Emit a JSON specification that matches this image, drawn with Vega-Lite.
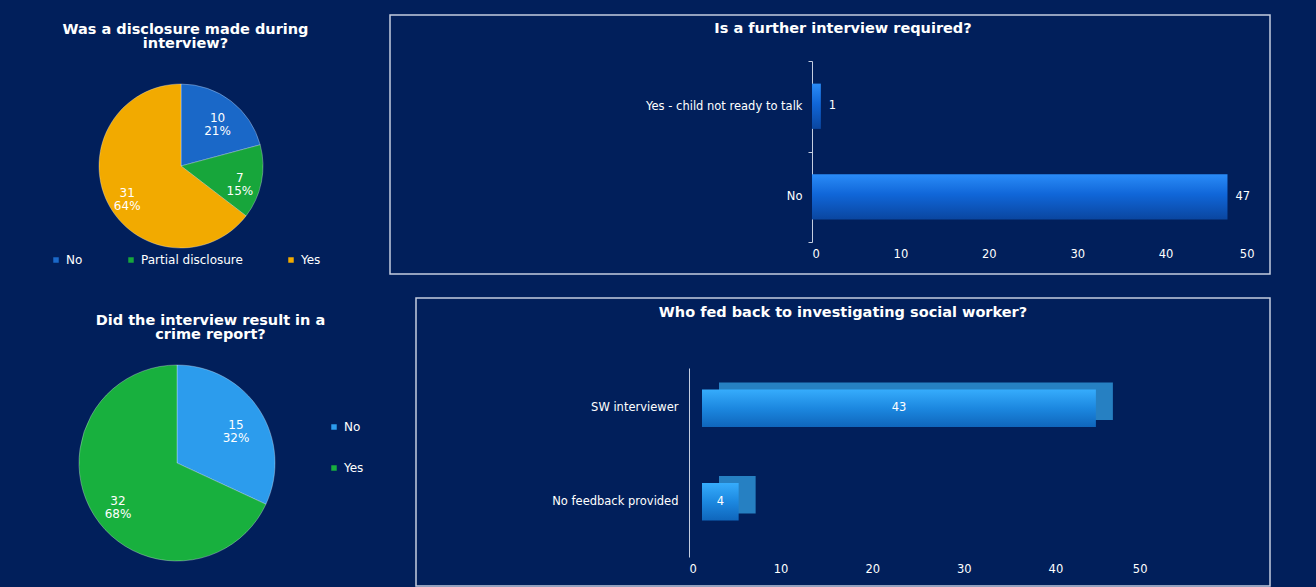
{
  "$schema": "https://vega.github.io/schema/vega-lite/v6.json",
  "background": "#011f5b",
  "padding": {"left": 50, "top": 8, "right": 48, "bottom": 1},
  "spacing": 25,
  "resolve": {"scale": {"color": "independent", "x": "independent", "y": "independent", "theta": "independent"}},
  "hconcat": [
    {
      "spacing": 46,
      "resolve": {"scale": {"color": "independent", "x": "independent", "y": "independent", "theta": "independent"}},
      "vconcat": [
        {
          "spacing": 0,
          "resolve": {"scale": {"color": "independent", "theta": "independent"}},
          "vconcat": [
            {"width": 10, "height": 6, "data": {"values": []}, "mark": "rect", "encoding": {}, "view": {"stroke": null}},
            {
              "width": 248,
              "height": 190,
              "view": {"stroke": null},
              "title": {"text": ["Was a disclosure made during", "interview?"], "frame": "bounds", "offset": 20, "lineHeight": 14},
              "data": {"values": [
                {"answer": "No", "count": 10, "label": "10\n21%"},
                {"answer": "Partial disclosure", "count": 7, "label": "7\n15%"},
                {"answer": "Yes", "count": 31, "label": "31\n64%"}
              ]},
              "encoding": {
                "theta": {"field": "count", "type": "quantitative", "stack": true},
                "order": {"field": "answer", "type": "nominal", "sort": "ascending"}
              },
              "layer": [
                {
                  "mark": {"type": "arc", "outerRadius": 82, "stroke": "#ffffff", "strokeOpacity": 0.3, "strokeWidth": 1},
                  "encoding": {
                    "color": {"field": "answer", "type": "nominal",
                      "scale": {"domain": ["No", "Partial disclosure", "Yes"], "range": ["#1a68c8", "#17a63b", "#f2aa00"]},
                      "legend": {"orient": "none", "direction": "horizontal", "legendX": -7, "legendY": 183, "columnPadding": 42, "padding": 0, "title": null}}
                  }
                },
                {
                  "mark": {"type": "text", "radius": 60, "fontSize": 12, "lineBreak": "\n", "lineHeight": 13, "color": "white"},
                  "encoding": {"text": {"field": "label"}}
                }
              ]
            }
          ]
        },
        {
          "width": 240,
          "height": 200,
          "view": {"stroke": null},
          "title": {"text": ["Did the interview result in a", "crime report?"], "frame": "bounds", "offset": 21, "lineHeight": 14},
          "data": {"values": [
            {"answer": "No", "count": 15, "label": "15\n32%"},
            {"answer": "Yes", "count": 32, "label": "32\n68%"}
          ]},
          "encoding": {
            "theta": {"field": "count", "type": "quantitative", "stack": true},
            "order": {"field": "answer", "type": "nominal", "sort": "ascending"}
          },
          "layer": [
            {
              "mark": {"type": "arc", "outerRadius": 98, "stroke": "#ffffff", "strokeOpacity": 0.3, "strokeWidth": 1},
              "encoding": {
                "color": {"field": "answer", "type": "nominal",
                  "scale": {"domain": ["No", "Yes"], "range": ["#2c9ced", "#18b03e"]},
                  "legend": {"orient": "none", "direction": "vertical", "legendX": 271, "legendY": 58, "rowPadding": 29, "padding": 0, "title": null}}
              }
            },
            {
              "mark": {"type": "text", "radius": 70, "fontSize": 12, "lineBreak": "\n", "lineHeight": 13, "color": "white"},
              "encoding": {"text": {"field": "label"}}
            }
          ]
        }
      ]
    },
    {
      "spacing": 22,
      "resolve": {"scale": {"x": "independent", "y": "independent"}},
      "vconcat": [
        {
          "width": 880,
          "height": 259,
          "view": {"stroke": "#c4cde0", "strokeWidth": 1.5},
          "title": {"text": "Is a further interview required?", "frame": "group", "offset": -27, "dx": 13},
          "data": {"values": [
            {"answer": "Yes - child not ready to talk", "count": 1},
            {"answer": "No", "count": 47}
          ]},
          "encoding": {
            "y": {"field": "answer", "type": "nominal", "sort": null,
              "scale": {"range": [46, 227], "paddingInner": 0, "paddingOuter": 0},
              "axis": {"offset": -422, "title": null, "tickBand": "extent", "ticks": true, "tickSize": 4, "labelPadding": 6}},
            "x": {"field": "count", "type": "quantitative",
              "scale": {"domain": [0, 50], "range": [422, 864], "nice": false},
              "axis": {"offset": -32, "values": [0, 10, 20, 30, 40, 50], "domain": false, "ticks": false, "labelPadding": 6, "title": null}}
          },
          "layer": [
            {"mark": {"type": "bar", "height": {"band": 0.5}, "color": {"gradient": "linear", "x1": 0, "y1": 0, "x2": 0, "y2": 1,
              "stops": [{"offset": 0, "color": "#2a8cf8"}, {"offset": 0.45, "color": "#1066d8"}, {"offset": 1, "color": "#0a46a0"}]}}},
            {"mark": {"type": "text", "align": "left", "dx": 8, "fontSize": 11.5, "color": "white"},
              "encoding": {"text": {"field": "count", "type": "quantitative"}}}
          ]
        },
        {
          "spacing": 0,
          "hconcat": [
            {"width": 25, "height": 1, "data": {"values": []}, "mark": "rect", "encoding": {}, "view": {"stroke": null}},
            {
              "width": 854,
              "height": 288,
              "view": {"stroke": "#c4cde0", "strokeWidth": 1.5},
              "title": {"text": "Who fed back to investigating social worker?", "frame": "group", "offset": -22},
              "data": {"values": [
                {"source": "SW interviewer", "count": 43},
                {"source": "No feedback provided", "count": 4}
              ]},
              "encoding": {
                "y": {"field": "source", "type": "nominal", "sort": null,
                  "scale": {"range": [70, 259], "paddingInner": 0.6, "paddingOuter": 0.31, "align": 0.37},
                  "axis": {"offset": -273, "title": null, "ticks": false, "labelPadding": 11}}
              },
              "resolve": {"scale": {"x": "independent"}},
              "layer": [
                {
                  "encoding": {
                    "x": {"field": "count", "type": "quantitative",
                      "scale": {"domain": [0, 50], "range": [273, 731], "nice": false},
                      "axis": {"offset": -29, "values": [0, 10, 20, 30, 40, 50], "domain": false, "ticks": false, "labelPadding": 6, "title": null}}
                  },
                  "layer": [
                    {"mark": {"type": "bar", "color": "#2680c2", "xOffset": 30, "x2Offset": 30, "yOffset": -7}},
                    {"mark": {"type": "bar", "xOffset": 13, "x2Offset": 13, "color": {"gradient": "linear", "x1": 0, "y1": 0, "x2": 0, "y2": 1,
                      "stops": [{"offset": 0, "color": "#36acfc"}, {"offset": 0.5, "color": "#1c88e0"}, {"offset": 1, "color": "#0f66bc"}]}}}
                  ]
                },
                {
                  "mark": {"type": "text", "dx": 13, "fontSize": 11.5, "color": "white"},
                  "encoding": {
                    "x": {"field": "count", "type": "quantitative",
                      "scale": {"domain": [0, 100], "range": [273, 731], "nice": false}, "axis": null},
                    "text": {"field": "count", "type": "quantitative"}
                  }
                }
              ]
            }
          ]
        }
      ]
    }
  ],
  "config": {
    "font": "DejaVu Sans",
    "axis": {"labelColor": "#ffffff", "labelFont": "DejaVu Sans", "labelFontSize": 11.5, "grid": false, "domainColor": "#c4cde0", "tickColor": "#c4cde0"},
    "legend": {"labelColor": "#ffffff", "labelFont": "DejaVu Sans", "labelFontSize": 12, "symbolType": "square", "symbolSize": 30, "symbolStrokeWidth": 0, "labelOffset": 4},
    "title": {"color": "#ffffff", "font": "DejaVu Sans", "fontWeight": "bold", "fontSize": 14.5, "anchor": "middle"},
    "text": {"font": "DejaVu Sans", "color": "#ffffff"}
  }
}
